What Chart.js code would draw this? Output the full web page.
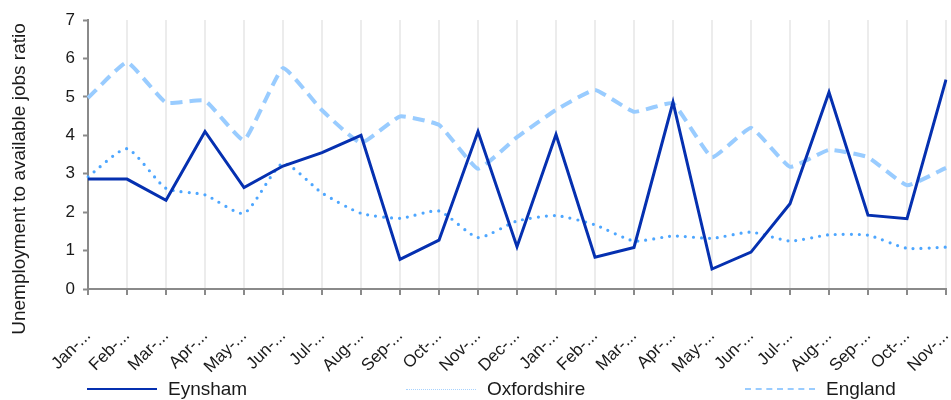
<!DOCTYPE html>
<html>
<head>
<meta charset="utf-8">
<script src="https://cdn.jsdelivr.net/npm/chart.js@4/dist/chart.umd.min.js"></script>
<style>
  html, body { margin: 0; padding: 0; background: #fff; }
  #wrap { position: relative; width: 951px; height: 400px; }
  #legend { position: absolute; left: 0; top: 378px; width: 951px; height: 22px; font-family: "Liberation Sans", Arial, sans-serif; font-size: 19px; color: #1a1a1a; }
  .item { position: absolute; top: 0; height: 22px; display: flex; align-items: center; }
  .swatch { width: 70px; height: 0; margin-right: 11px; }
</style>
</head>
<body>
<div id="wrap">
  <canvas id="c" width="951" height="400"></canvas>
  <div id="legend"></div>
</div>
<script>
const categories = ["Jan-...","Feb-...","Mar-...","Apr-...","May-...","Jun-...","Jul-...","Aug-...","Sep-...","Oct-...","Nov-...","Dec-...","Jan-...","Feb-...","Mar-...","Apr-...","May-...","Jun-...","Jul-...","Aug-...","Sep-...","Oct-...","Nov-..."];
const eynsham = [2.86, 2.86, 2.31, 4.1, 2.64, 3.2, 3.55, 4.0, 0.77, 1.27, 4.1, 1.1, 4.02, 0.83, 1.08, 4.86, 0.52, 0.96, 2.22, 5.12, 1.92, 1.83, 5.45];
const oxfordshire = [2.92, 3.65, 2.62, 2.45, 1.97, 3.27, 2.5, 1.97, 1.84, 2.03, 1.34, 1.77, 1.91, 1.67, 1.25, 1.38, 1.32, 1.48, 1.25, 1.41, 1.4, 1.06, 1.09];
const england = [4.97, 5.9, 4.85, 4.9, 3.87, 5.75, 4.65, 3.8, 4.49, 4.27, 3.13, 3.95, 4.66, 5.18, 4.61, 4.83, 3.43, 4.19, 3.18, 3.62, 3.43, 2.7, 3.15];
const yTicks = [0, 1, 2, 3, 4, 5, 6, 7];
const seriesNames = ["Eynsham", "Oxfordshire", "England"];
const yTitle = "Unemployment to available jobs ratio";

const FONT = "'Liberation Sans', Arial, sans-serif";
const TEXT = '#1a1a1a';
const AXIS = '#8a8a8a';

const titlePlugin = {
  id: 'yTitle',
  afterDraw(chart) {
    const ctx = chart.ctx;
    ctx.save();
    ctx.translate(20, 179);
    ctx.rotate(-Math.PI / 2);
    ctx.font = "19px " + FONT;
    ctx.fillStyle = TEXT;
    ctx.textAlign = 'center';
    ctx.textBaseline = 'middle';
    ctx.fillText(yTitle, 0, 0);
    ctx.restore();
  }
};

new Chart(document.getElementById('c'), {
  type: 'line',
  data: {
    labels: categories,
    datasets: [
      { label: seriesNames[0], data: eynsham, borderColor: '#0530b0', borderWidth: 3, pointRadius: 0, tension: 0, borderJoinStyle: 'miter', order: 0 },
      { label: seriesNames[1], data: oxfordshire, borderColor: '#4da6ff', borderWidth: 3.2, borderDash: [0, 8], borderCapStyle: 'round', pointRadius: 0, tension: 0.2, order: 2 },
      { label: seriesNames[2], data: england, borderColor: '#99ccff', borderWidth: 4, borderDash: [12, 7], pointRadius: 0, tension: 0.12, order: 1 }
    ]
  },
  options: {
    responsive: false,
    animation: false,
    layout: { padding: { left: 40, right: 5, top: 20, bottom: 0 } },
    plugins: { legend: { display: false }, tooltip: { enabled: false } },
    scales: {
      x: {
        offset: false,
        grid: { display: true, color: '#ececec', lineWidth: 2, tickColor: AXIS, tickLength: 6, tickWidth: 2 },
        border: { color: AXIS, width: 2 },
        ticks: { color: TEXT, font: { family: FONT, size: 17 }, minRotation: 45, maxRotation: 45, autoSkip: false, padding: 31 },
        afterFit(scale) { scale.height = 111; scale.paddingRight = 0; scale.paddingLeft = 0; }
      },
      y: {
        min: 0, max: 7,
        afterBuildTicks(scale) { scale.ticks = yTicks.map(v => ({ value: v })); },
        grid: { drawOnChartArea: false, tickColor: AXIS, tickLength: 5, tickWidth: 2 },
        border: { color: AXIS, width: 2 },
        ticks: { color: TEXT, font: { family: FONT, size: 17 }, padding: 8 },
        afterFit(scale) { scale.width = 48; }
      }
    }
  },
  plugins: [titlePlugin]
});

const legendDefs = [
  { left: 87, border: '2px solid #0530b0' },
  { left: 406, border: '1px dotted #a8d3ff' },
  { left: 745, border: '2px dashed #99ccff' }
];
const leg = document.getElementById('legend');
seriesNames.forEach((n, i) => {
  const it = document.createElement('div');
  it.className = 'item';
  it.style.left = legendDefs[i].left + 'px';
  const sw = document.createElement('div');
  sw.className = 'swatch';
  sw.style.borderTop = legendDefs[i].border;
  const tx = document.createElement('span');
  tx.textContent = n;
  it.appendChild(sw); it.appendChild(tx);
  leg.appendChild(it);
});
</script>
</body>
</html>
